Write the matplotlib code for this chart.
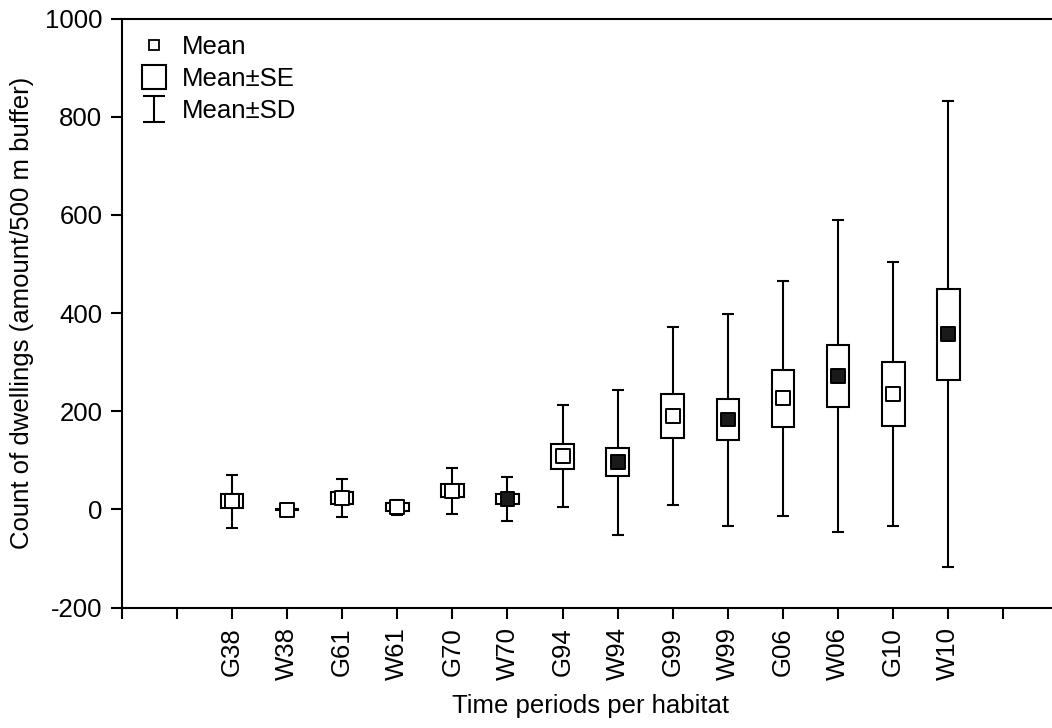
import matplotlib
matplotlib.use("Agg")
import matplotlib.pyplot as plt
from matplotlib.lines import Line2D
from matplotlib.path import Path
import numpy as np

# Dwelling counts per time period and habitat (G = grassland, W = woodland)
labels = ["G38", "W38", "G61", "W61", "G70", "W70", "G94", "W94",
          "G99", "W99", "G06", "W06", "G10", "W10"]
means = [17, -1, 23, 4, 38, 21, 108, 96, 190, 183, 226, 272, 235, 357]
se = [14, 1, 12, 8, 13, 10, 25, 29, 45, 42, 58, 63, 65, 93]
sd = [54, 2, 39, 16, 47, 44, 104, 148, 182, 216, 240, 318, 269, 475]
filled = [False, False, False, False, False, True, False, True,
          False, True, False, True, False, True]

plt.rcParams["font.family"] = ["Liberation Sans", "DejaVu Sans"]
plt.rcParams["axes.unicode_minus"] = False
FS = 18.5

fig = plt.figure(figsize=(10.52, 7.28), dpi=100)
# axes runs slightly past the right edge of the figure
ax = fig.add_axes([0.1157, 0.1655, 0.8905, 0.809])

x = np.arange(1, len(labels) + 1)
m = np.array(means, dtype=float)
e = np.array(se, dtype=float)
d = np.array(sd, dtype=float)

# Mean ± SD whiskers
ax.errorbar(x, m, yerr=d, fmt="none", ecolor="black", elinewidth=1.5,
            capsize=4.5, capthick=1.5, zorder=2)
# Mean ± SE boxes
ax.bar(x, 2 * e, bottom=m - e, width=0.41, facecolor="white",
       edgecolor="black", linewidth=1.5, zorder=3)
# Mean markers: open for G, filled for most W
face = ["#1a1a1a" if f else "white" for f in filled]
ax.scatter(x, m, marker="s", s=100, facecolors=face, edgecolors="black",
           linewidths=1.4, zorder=4)

ax.set_xlim(-1, 16)
ax.set_ylim(-200, 1000)
ax.set_yticks(np.arange(-200, 1001, 200))
ax.set_xticks(np.arange(-1, 16))
ax.set_xticklabels([""] * 2 + labels + [""], rotation=90)

for sp in ax.spines.values():
    sp.set_linewidth(1.5)
ax.tick_params(axis="both", direction="out", length=8, width=1.5,
               labelsize=FS, colors="black")
ax.tick_params(axis="x", pad=6)
ax.tick_params(axis="y", pad=6)

ax.set_xlabel("Time periods per habitat", fontsize=FS, labelpad=10)
ax.set_ylabel("Count of dwellings (amount/500 m buffer)", fontsize=FS,
              labelpad=8)

# Legend symbols
ibar = Path([(-0.85, -1), (0.85, -1), (0, -1), (0, 1), (-0.85, 1), (0.85, 1)],
            [Path.MOVETO, Path.LINETO, Path.MOVETO, Path.LINETO,
             Path.MOVETO, Path.LINETO])
handles = [
    Line2D([], [], linestyle="none", marker="s", markersize=7,
           markerfacecolor="white", markeredgecolor="black",
           markeredgewidth=1.3),
    Line2D([], [], linestyle="none", marker="s", markersize=17,
           markerfacecolor="white", markeredgecolor="black",
           markeredgewidth=1.5),
    Line2D([], [], linestyle="none", marker=ibar, markersize=19,
           markerfacecolor="none", markeredgecolor="black",
           markeredgewidth=1.5),
]
ax.legend(handles, ["Mean", "Mean\u00b1SE", "Mean\u00b1SD"], loc="upper left",
          frameon=False, fontsize=FS, handlelength=1.2, handletextpad=0.5,
          labelspacing=0.3, borderaxespad=0.35, borderpad=0.3)

fig.savefig("out.png", dpi=100)
